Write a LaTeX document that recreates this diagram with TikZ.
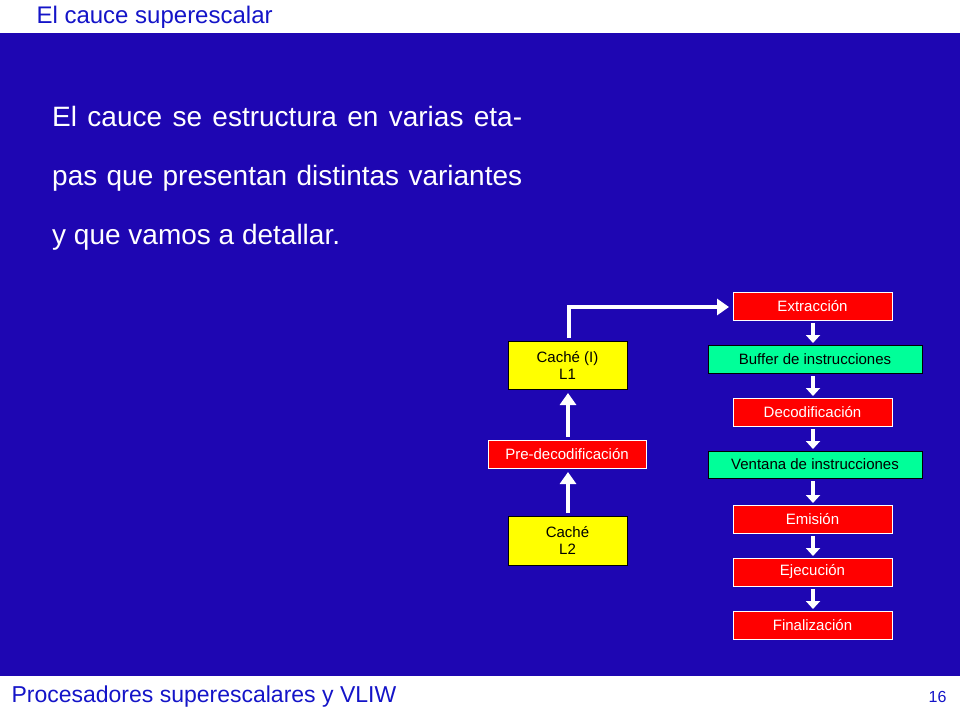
\documentclass[tikz,border=0pt]{standalone}
\usepackage{fontspec}
\setmainfont{Liberation Sans}
\usetikzlibrary{arrows.meta}
\definecolor{bgblue}{RGB}{30,6,178}
\definecolor{ttl}{RGB}{20,20,200}
\definecolor{rbox}{RGB}{255,0,0}
\definecolor{gbox}{RGB}{0,255,153}
\definecolor{ybox}{RGB}{255,255,0}
\tikzset{
 redbox/.style={draw=white,fill=rbox,text=white,line width=0.8pt},
 grnbox/.style={draw=black,fill=gbox,text=black,line width=0.8pt},
 ylwbox/.style={draw=black,fill=ybox,text=black,line width=0.8pt},
 bigarr/.style={draw=white,line width=4pt,-{Triangle[length=12pt,width=16pt]}},
 smarr/.style={draw=white,line width=4pt,-{Triangle[length=8pt,width=14pt]}},
 lbl/.style={font=\fontsize{15}{17}\selectfont,align=center}
}
\begin{document}
\begin{tikzpicture}[x=1pt,y=-1pt]
\useasboundingbox (0,0) rectangle (960,720);
\fill[white] (0,0) rectangle (960,720);
\fill[bgblue] (0,33) rectangle (960,676);
\node[anchor=west,text=ttl,font=\fontsize{24}{26}\selectfont] (title) at (33,17) {El cauce superescalar};
\node[anchor=west,text=ttl,font=\fontsize{23}{25}\selectfont] (foot) at (8,697) {Procesadores superescalares y VLIW};
\node[anchor=east,text=ttl,font=\fontsize{16}{18}\selectfont] (pg) at (950,697) {16};
\node[anchor=north west,text=white,text width=470pt,align=justify,inner sep=0pt,font=\fontsize{28}{59}\selectfont] (body) at (52,106) {El cauce se estructura en varias etapas que presentan distintas variantes y que vamos a detallar.};
% right column
\path[redbox] (733,292) rectangle (892,320); \node[lbl,text=white] (ext) at (812.5,306) {Extracción};
\path[grnbox] (708,345) rectangle (922,373); \node[lbl] (buf) at (815,359) {Buffer de instrucciones};
\path[redbox] (733,398) rectangle (892,426); \node[lbl,text=white] (dec) at (812.5,412) {Decodificación};
\path[grnbox] (708,451) rectangle (922,478); \node[lbl] (ven) at (815,464.5) {Ventana de instrucciones};
\path[redbox] (733,505) rectangle (892,533); \node[lbl,text=white] (emi) at (812.5,519) {Emisión};
\path[redbox] (733,558) rectangle (892,586); \node[lbl,text=white] (eje) at (812.5,572) {Ejecución};
\path[redbox] (733,611) rectangle (892,639); \node[lbl,text=white] (fin) at (812.5,625) {Finalización};
\coordinate (r1) at (813,323); \coordinate (r1e) at (813,343);
\coordinate (r2) at (813,376); \coordinate (r2e) at (813,396);
\coordinate (r3) at (813,429); \coordinate (r3e) at (813,449);
\coordinate (r4) at (813,481); \coordinate (r4e) at (813,503);
\coordinate (r5) at (813,536); \coordinate (r5e) at (813,556);
\coordinate (r6) at (813,589); \coordinate (r6e) at (813,609);
\foreach \a in {1,...,6} \draw[smarr] (r\a) -- (r\a e);
% left column
\path[ylwbox] (508,341) rectangle (627,389); \node[lbl] (l1) at (567.5,365) {Caché (I)\\L1};
\path[redbox] (488,440) rectangle (646,468); \node[lbl,text=white] (pre) at (567,454) {Pre-decodificación};
\path[ylwbox] (508,516) rectangle (627,565); \node[lbl] (l2) at (567.5,540.5) {Caché\\L2};
\coordinate (a1) at (568,513); \coordinate (a1e) at (568,472);
\coordinate (a2) at (568,437); \coordinate (a2e) at (568,393);
\coordinate (a3) at (569,338); \coordinate (a3e) at (729,307);
\draw[bigarr] (a1) -- (a1e);
\draw[bigarr] (a2) -- (a2e);
\draw[bigarr] (a3) |- (a3e);
\end{tikzpicture}
\end{document}
